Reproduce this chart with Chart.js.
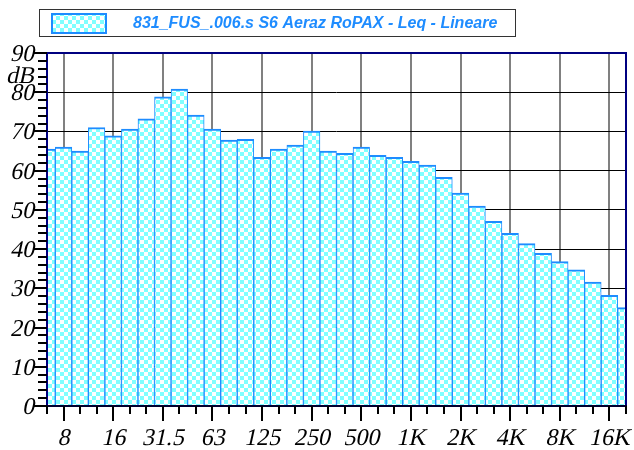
<!DOCTYPE html>
<html><head><meta charset="utf-8">
<script src="https://cdn.jsdelivr.net/npm/chart.js@4"></script>
<style>html,body{margin:0;padding:0;background:#fff}#wrap{width:634px;height:450px;position:relative}</style>
</head><body><div id="wrap"><canvas id="c"></canvas></div>
<script>
// ---- data ----
const bands = ['6.3','8','10','12.5','16','20','25','31.5','40','50','63','80','100','125','160','200','250','315','400','500','630','800','1K','1.25K','1.6K','2K','2.5K','3.15K','4K','5K','6.3K','8K','10K','12.5K','16K','20K'];
const shownLabels = ['8','16','31.5','63','125','250','500','1K','2K','4K','8K','16K'];
const leqValues = [65.5,66.0,65.0,71.0,68.9,70.6,73.2,78.8,80.8,74.2,70.6,67.8,68.0,63.4,65.5,66.5,70.1,65.0,64.4,66.0,63.9,63.4,62.4,61.4,58.3,54.3,51.0,47.1,44.0,41.4,38.9,36.8,34.7,31.6,28.2,25.1];
const yTicks = [0,10,20,30,40,50,60,70,80,90];
const yMinorStep = 2;
const yUnit = 'dB';
const yUnitAt = 84.3;
const seriesLabel = '831_FUS_.006.s S6 Aeraz RoPAX - Leq - Lineare';

// ---- styles ----
const BLUE = '#1E8CFF';
const CYAN = '#80FFFF';
const NAVY = '#000080';
const LABEL_FONT = '24px "Liberation Serif", "Times New Roman", serif';
const SLANT = -0.22;

function checker() {
  const c = document.createElement('canvas');
  c.width = 8; c.height = 8;
  const g = c.getContext('2d');
  g.fillStyle = '#ffffff'; g.fillRect(0,0,8,8);
  g.fillStyle = CYAN; g.fillRect(0,0,4,4); g.fillRect(4,4,4,4);
  return g.createPattern(c, 'repeat');
}
const ctx = document.getElementById('c').getContext('2d');
const pattern = checker();
const isShown = i => shownLabels.includes(bands[i]);

function slantText(ctx, text, x, y, align) {
  ctx.save();
  ctx.translate(x, y);
  ctx.transform(1, 0, SLANT, 1, 0, 0);
  ctx.textAlign = align; ctx.textBaseline = 'alphabetic';
  ctx.fillText(text, 0, 0);
  ctx.restore();
}

const decor = {
  id: 'decor',
  afterDatasetsDraw(chart) {
    const {ctx, chartArea: a, scales: {x, y}} = chart;
    ctx.save();
    ctx.strokeStyle = NAVY; ctx.lineWidth = 2;
    ctx.beginPath();
    ctx.moveTo(a.left, a.bottom); ctx.lineTo(a.left, a.top); ctx.lineTo(a.right, a.top); ctx.lineTo(a.right, a.bottom);
    ctx.stroke();
    ctx.strokeStyle = '#000030'; ctx.lineWidth = 2;
    ctx.beginPath(); ctx.moveTo(a.left - 1, a.bottom); ctx.lineTo(a.right + 1, a.bottom); ctx.stroke();
    ctx.strokeStyle = '#000'; ctx.lineWidth = 2;
    const yMin = yTicks[0], yMax = yTicks[yTicks.length - 1];
    for (let v = yMin; v <= yMax; v += yMinorStep) {
      const py = Math.round(y.getPixelForValue(v));
      const len = yTicks.includes(v) ? 14 : 9;
      ctx.beginPath(); ctx.moveTo(a.left - len, py); ctx.lineTo(a.left, py); ctx.stroke();
    }
    for (let i = 0; i < bands.length; i++) {
      const px = Math.round(x.getPixelForValue(i));
      const len = isShown(i) ? 15 : 8;
      ctx.beginPath(); ctx.moveTo(px, a.bottom); ctx.lineTo(px, a.bottom + len); ctx.stroke();
    }
    // labels (slanted serif)
    ctx.fillStyle = '#000';
    ctx.font = LABEL_FONT;
    yTicks.forEach(v => slantText(ctx, String(v), a.left - 13, y.getPixelForValue(v) + 8, 'right'));
    slantText(ctx, yUnit, a.left - 13, y.getPixelForValue(yUnitAt) + 8, 'right');
    bands.forEach((b, i) => { if (isShown(i)) slantText(ctx, b, x.getPixelForValue(i), a.bottom + 39, 'center'); });
    ctx.restore();
  },
  afterDraw(chart) {
    const {ctx} = chart;
    ctx.save();
    ctx.strokeStyle = '#333'; ctx.lineWidth = 1;
    ctx.strokeRect(39.5, 9.5, 476, 27);
    ctx.fillStyle = pattern; ctx.fillRect(52, 14, 54, 19);
    ctx.strokeStyle = BLUE; ctx.lineWidth = 2;
    ctx.strokeRect(52, 14, 54, 19);
    ctx.fillStyle = BLUE;
    ctx.font = 'italic bold 16px "Liberation Sans", Arial, sans-serif';
    ctx.textAlign = 'left'; ctx.textBaseline = 'alphabetic';
    ctx.fillText(seriesLabel, 133, 28);
    ctx.restore();
  }
};

new Chart(ctx, {
  type: 'bar',
  data: {
    labels: bands,
    datasets: [{
      label: seriesLabel,
      data: leqValues,
      backgroundColor: pattern,
      borderColor: BLUE,
      borderWidth: {top: 2, left: 1, right: 1, bottom: 0},
      borderSkipped: false,
      categoryPercentage: 1,
      barPercentage: 1
    }]
  },
  options: {
    responsive: true,
    maintainAspectRatio: false,
    animation: false,
    devicePixelRatio: 1,
    layout: {padding: {top: 53, right: 8, left: 0, bottom: 0}},
    plugins: {legend: {display: false}, tooltip: {enabled: false}},
    scales: {
      x: {
        type: 'category',
        offset: false,
        border: {display: false},
        grid: {offset: false, drawTicks: false, lineWidth: 2,
               color: c => isShown(c.index) ? '#808080' : 'rgba(0,0,0,0)'},
        ticks: {display: false, autoSkip: false},
        afterFit: s => { s.height = 44; }
      },
      y: {
        min: yTicks[0], max: yTicks[yTicks.length - 1],
        border: {display: false},
        grid: {drawTicks: false, color: '#000', lineWidth: 1},
        ticks: {display: false, stepSize: 10},
        afterBuildTicks: s => { s.ticks = yTicks.map(v => ({value: v})); },
        afterFit: s => { s.width = 47; }
      }
    }
  },
  plugins: [decor]
});
</script></body></html>
